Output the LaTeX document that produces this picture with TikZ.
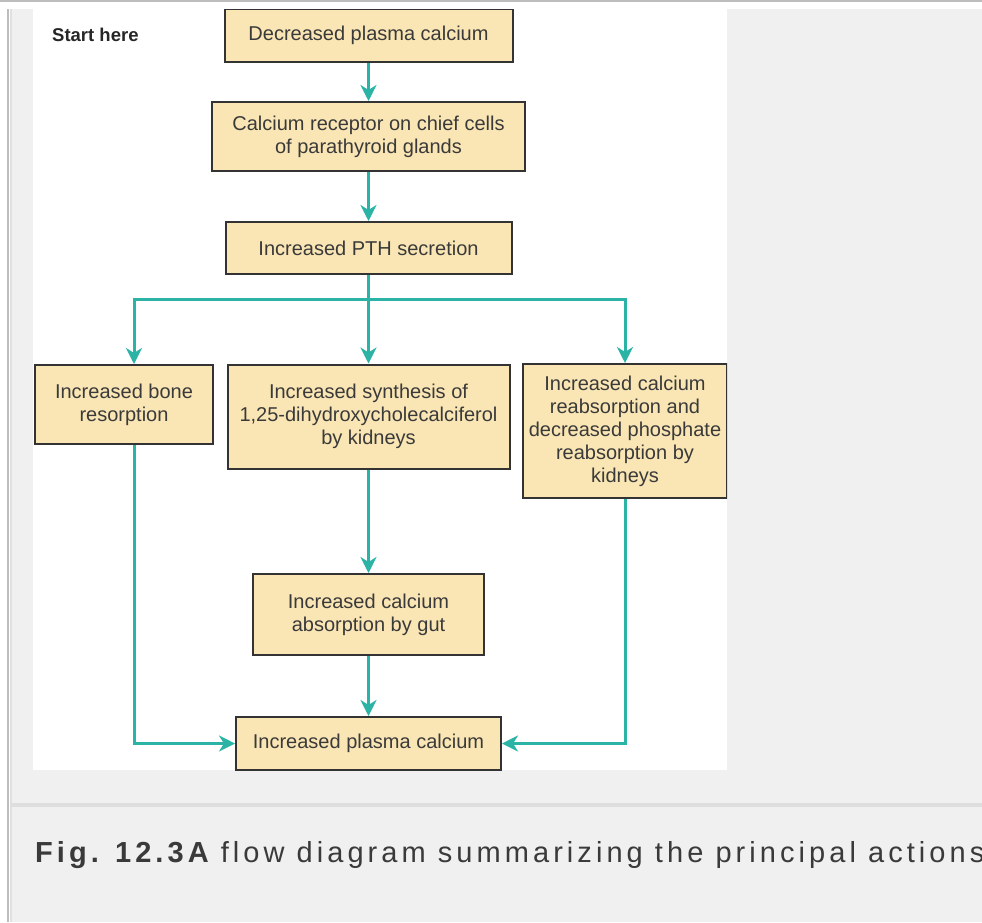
\documentclass[tikz,border=0pt]{standalone}
\usepackage{fontspec}
\setmainfont{Liberation Sans}
\newfontfamily\capfont[LetterSpace=14]{Liberation Sans}
\usetikzlibrary{arrows.meta}
\definecolor{boxfill}{HTML}{FAE6B4}
\definecolor{boxline}{HTML}{333333}
\definecolor{flowcol}{HTML}{2BB3A6}
\definecolor{txtcol}{HTML}{3A3A3A}
\definecolor{pagegray}{HTML}{F0F0F0}
\definecolor{rulegray}{HTML}{BDBDBD}
\definecolor{rulelight}{HTML}{E0E0E0}
\definecolor{sepgray}{HTML}{DEDEDE}
\tikzset{
  box/.style={draw=boxline,line width=2pt,fill=boxfill,inner sep=0pt,align=center,
    text=txtcol,font=\fontsize{20}{23}\selectfont},
  link/.style={draw=flowcol,line width=3pt},
  flow/.style={link,-{Stealth[length=16pt,width=16pt,inset=5pt]}}
}
\begin{document}
\begin{tikzpicture}[x=1pt,y=-1pt]
  \clip (0,0) rectangle (982,922);
  % page
  \fill[white] (0,0) rectangle (982,922);
  \fill[pagegray] (11,9) rectangle (982,922);
  \draw[rulegray,line width=1.5pt] (0,0.75) -- (982,0.75);
  \draw[rulegray,line width=1.6pt] (8.2,9) -- (8.2,922);
  \draw[rulelight,line width=2pt] (10.5,9) -- (10.5,922);
  \fill[white] (33,9) rectangle (727,770);
  \draw[sepgray,line width=4pt] (11,805) -- (982,805);

  \begin{scope}
    \clip (33,9) rectangle (727,770);
    \node[anchor=base west,inner sep=0pt,text=black!85,font=\bfseries\fontsize{18.5}{20}\selectfont] (start) at (52,41.5) {Start here};

    \node[box,minimum width=288pt,minimum height=53pt] (low) at (368.5,35.5) {Decreased plasma calcium};
    \node[box,minimum width=313pt,minimum height=69pt] (receptor) at (368.5,136.5) {Calcium receptor on chief cells\\of parathyroid glands};
    \node[box,minimum width=286pt,minimum height=52pt] (pth) at (368.5,248) {Increased PTH secretion};
    \node[box,minimum width=178pt,minimum height=79pt] (bone) at (124,404.5) {Increased bone\\resorption};
    \node[box,minimum width=282pt,minimum height=104pt] (synth) at (368.5,416.5) {Increased synthesis of\\1,25-dihydroxycholecalciferol\\by kidneys};
    \node[box,minimum width=204pt,minimum height=134pt] (reabs) at (625,431) {Increased calcium\\reabsorption and\\decreased phosphate\\reabsorption by\\kidneys};
    \node[box,minimum width=231pt,minimum height=81pt] (gut) at (368.5,614.5) {Increased calcium\\absorption by gut};
    \node[box,minimum width=265pt,minimum height=53pt] (high) at (368.5,743.5) {Increased plasma calcium};

    \coordinate (split) at (368.5,299);

    \draw[flow] (low) -- (receptor);
    \draw[flow] (receptor) -- (pth);
    \draw[link] (pth) -- (split);
    \draw[flow] (split) -| ([xshift=10pt]bone.north);
    \draw[flow] (split) -- (synth);
    \draw[flow] (split) -| (reabs.north);
    \draw[flow] (synth) -- (gut);
    \draw[flow] (gut) -- (high);
    \draw[flow] ([xshift=10pt]bone.south) |- (high.west);
    \draw[flow] (reabs.south) |- (high.east);
  \end{scope}

  \node[anchor=base west,inner sep=0pt,text=txtcol,font=\capfont\fontsize{29}{32}\selectfont] (caption) at (35,862)
    {{\bfseries Fig. 12.3A} flow diagram summarizing the principal actions};
\end{tikzpicture}
\end{document}
